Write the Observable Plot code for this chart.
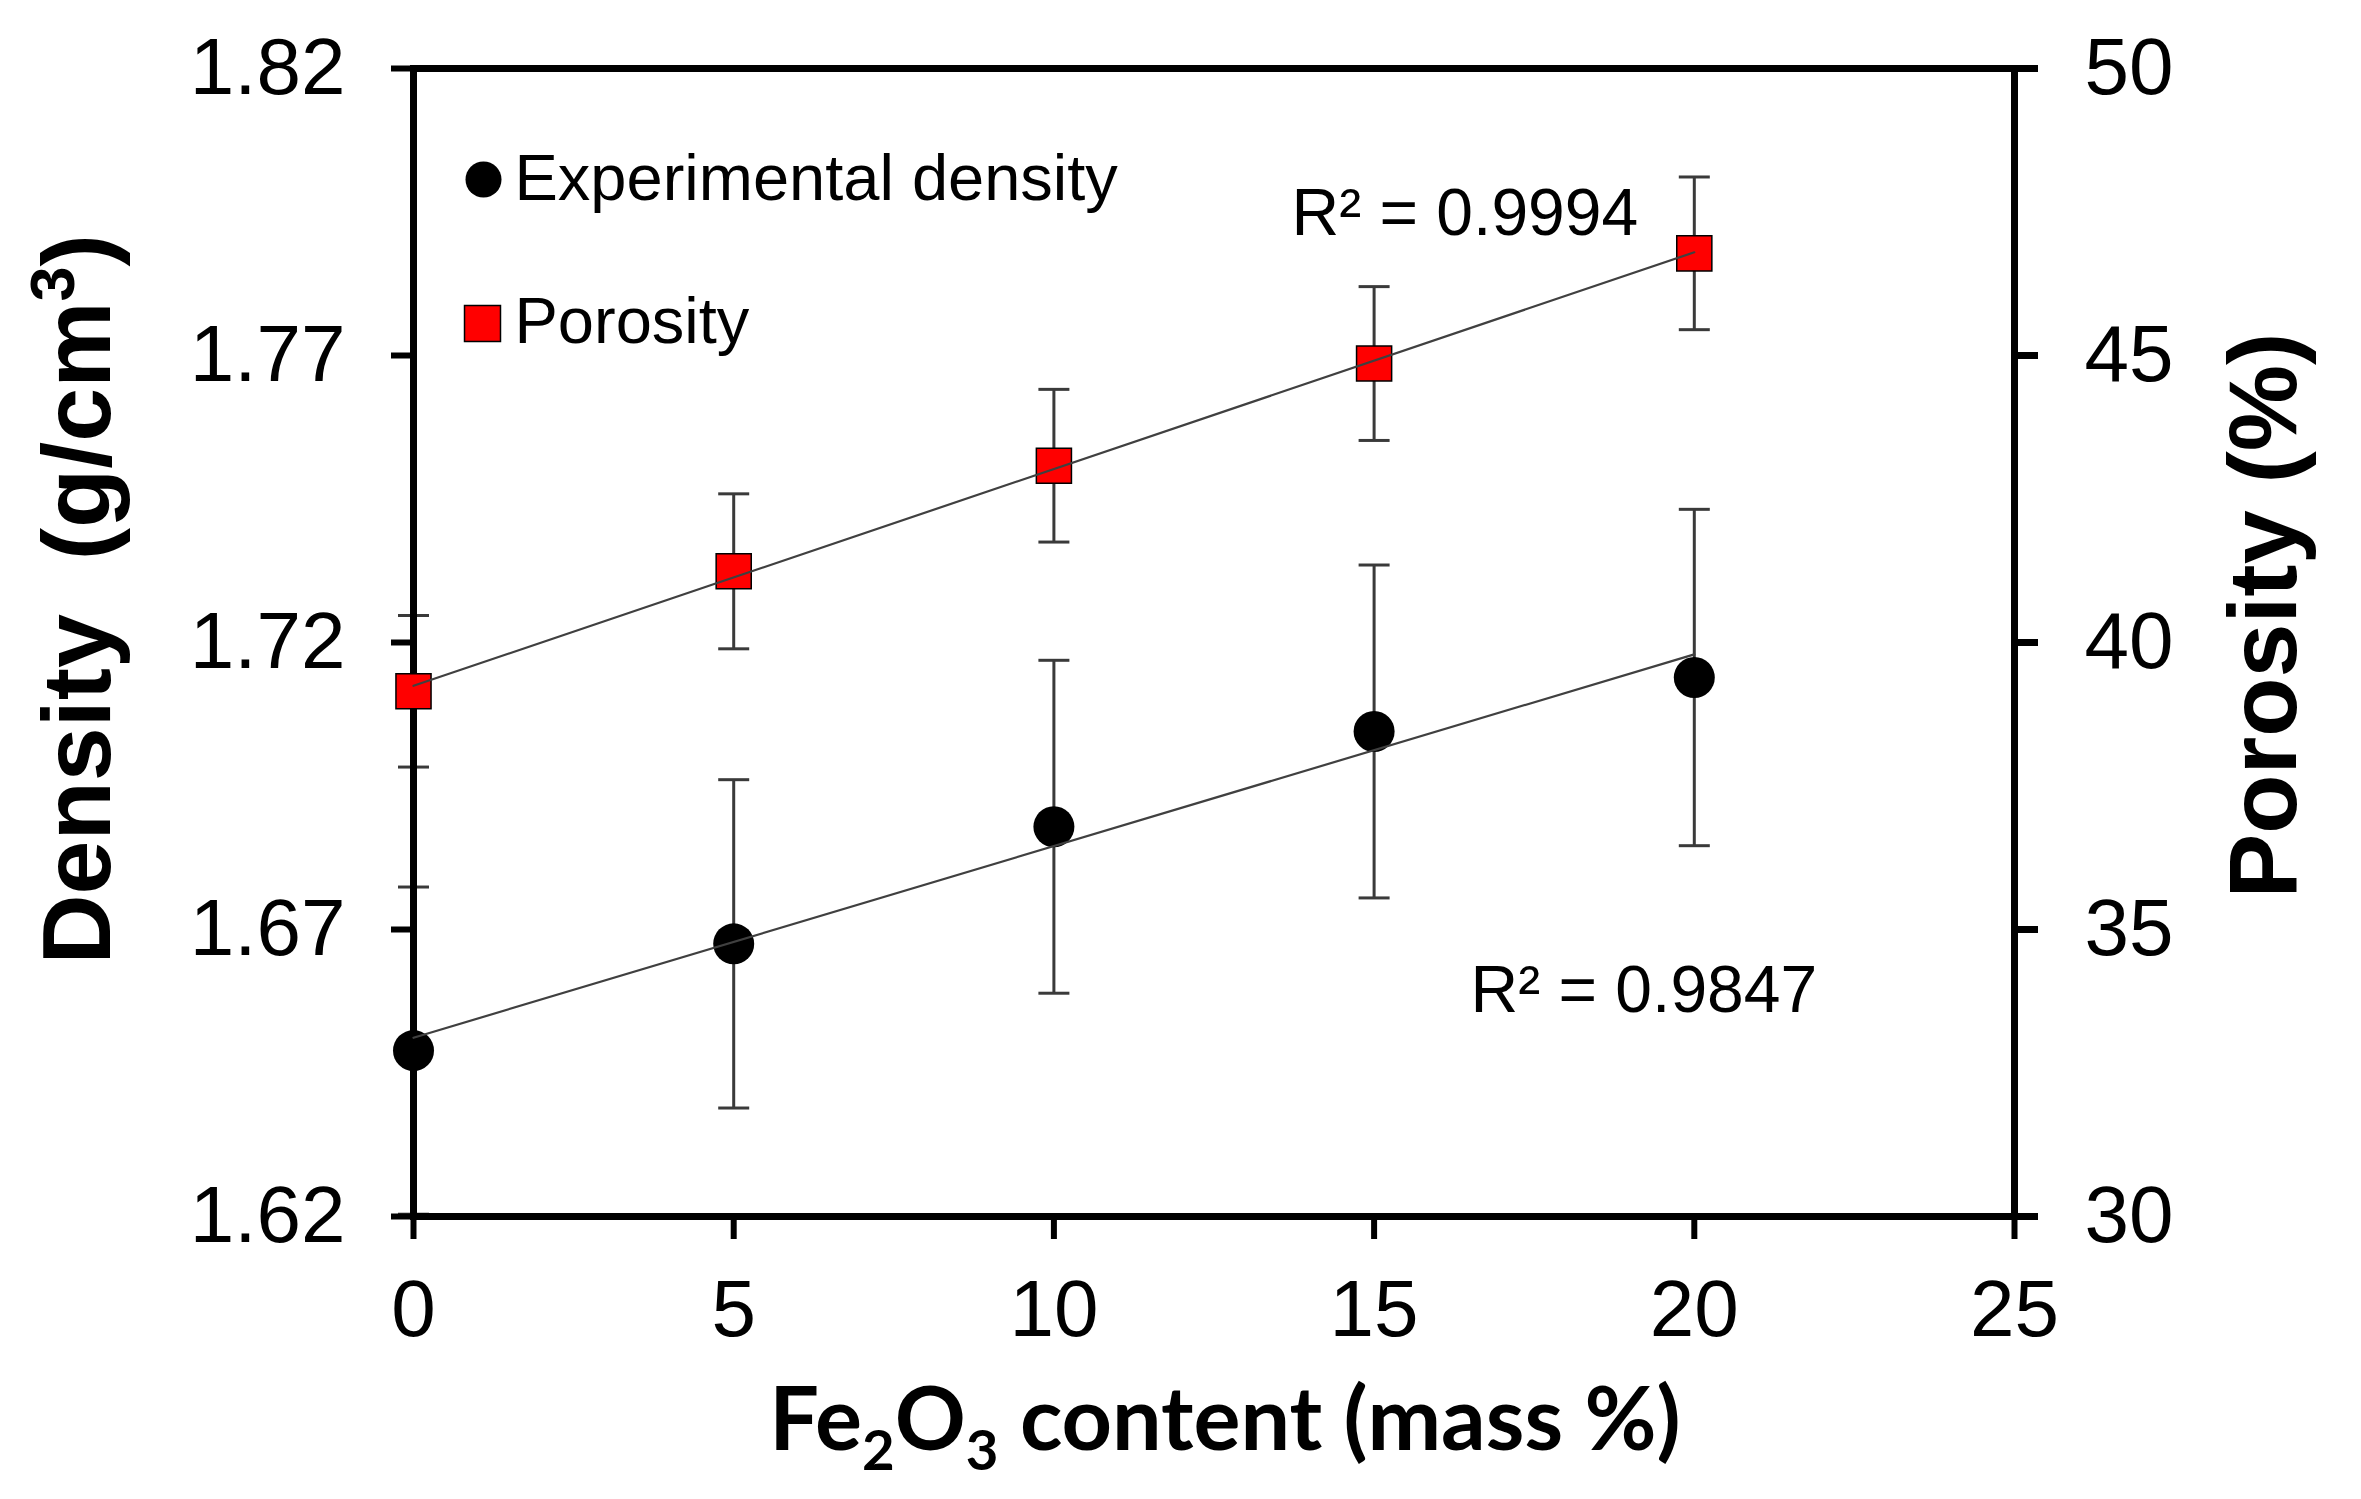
<!DOCTYPE html>
<html>
<head>
<meta charset="utf-8">
<script src="https://cdn.jsdelivr.net/npm/d3@7"></script>
<script src="https://cdn.jsdelivr.net/npm/@observablehq/plot@0.6"></script>
<style>
  body { margin: 0; background: #fff; }
</style>
</head>
<body>
<div id="chart"></div>
<script>
// valores
const contentFe2O3 = [0, 5, 10, 15, 20]
const density = [1.6489, 1.6675, 1.6879, 1.7045, 1.7139]
const densityErr = [0.0285, 0.0286, 0.029, 0.029, 0.0293]
const porosity = [39.15, 41.24, 43.08, 44.86, 46.78]
const porosityErr = [1.32, 1.35, 1.33, 1.34, 1.33]

const xTicks = [0, 5, 10, 15, 20, 25]
const densityTicks = [1.62, 1.67, 1.72, 1.77, 1.82]
const porosityTicks = [30, 35, 40, 45, 50]

const r2Density = "R² = 0.9847"
const r2Porosity = "R² = 0.9994"
const xTitle = "Fe2O3 content (mass %)"
const yTitle = "Density  (g/cm3)"
const y2Title = "Porosity (%)"

// eje derecho (porosidad) mapeado sobre la escala de densidad
const k = (densityTicks[densityTicks.length - 1] - densityTicks[0]) /
          (porosityTicks[porosityTicks.length - 1] - porosityTicks[0])
const toY = p => densityTicks[0] + (p - porosityTicks[0]) * k
const fromY = d => porosityTicks[0] + (d - densityTicks[0]) / k

const rows = contentFe2O3.map((x, i) => ({
  x,
  density: density[i],
  densityErr: densityErr[i],
  porosity: toY(porosity[i]),
  porosityErr: porosityErr[i] * k
}))

// simbolo para las tapas de las barras de error
const cap = {
  draw(context, size) {
    const w = Math.sqrt(size / Math.PI)
    context.moveTo(-w, 0)
    context.lineTo(w, 0)
  }
}

const errColor = "#3a3a3a"
const sans = "'Liberation Sans', Arial, sans-serif"

let chart = Plot.plot({
  width: 2361,
  height: 1499,
  marginLeft: 413,
  marginRight: 347,
  marginTop: 68,
  marginBottom: 283,
  x: {domain: [0, 25]},
  y: {domain: [densityTicks[0], densityTicks[densityTicks.length - 1]]},
  style: {fontFamily: sans, background: "white", color: "black", overflow: "visible"},
  marks: [
    // barras de error
    Plot.ruleX(rows, {x: "x", y1: d => d.density - d.densityErr, y2: d => d.density + d.densityErr, stroke: errColor, strokeWidth: 3}),
    Plot.dot(rows, {x: "x", y: d => d.density - d.densityErr, symbol: cap, r: 15.5, stroke: errColor, strokeWidth: 3}),
    Plot.dot(rows, {x: "x", y: d => d.density + d.densityErr, symbol: cap, r: 15.5, stroke: errColor, strokeWidth: 3}),
    Plot.ruleX(rows, {x: "x", y1: d => d.porosity - d.porosityErr, y2: d => d.porosity + d.porosityErr, stroke: errColor, strokeWidth: 3}),
    Plot.dot(rows, {x: "x", y: d => d.porosity - d.porosityErr, symbol: cap, r: 15.5, stroke: errColor, strokeWidth: 3}),
    Plot.dot(rows, {x: "x", y: d => d.porosity + d.porosityErr, symbol: cap, r: 15.5, stroke: errColor, strokeWidth: 3}),

    Plot.frame({stroke: "black", strokeWidth: 7}),

    // ejes
    Plot.axisX({ticks: xTicks, tickSize: 23, tickPadding: 40, strokeWidth: 6, fontSize: 80, label: null}),
    Plot.axisY({anchor: "left", ticks: densityTicks, tickFormat: d3.format(".2f"), tickSize: 22, tickPadding: 46, strokeWidth: 6, fontSize: 80, label: null}),
    Plot.axisY({anchor: "right", ticks: porosityTicks.map(toY), tickFormat: d => fromY(d).toFixed(0), tickSize: 23, tickPadding: 47, strokeWidth: 7, fontSize: 80, label: null}),

    // puntos
    Plot.dot(rows, {x: "x", y: "density", r: 20.5, fill: "black"}),
    Plot.dot(rows, {x: "x", y: "porosity", symbol: "square", r: 19.8, fill: "#ff0000", stroke: "black", strokeWidth: 1.5}),

    // lineas de tendencia
    Plot.linearRegressionY(rows, {x: "x", y: "density", ci: 0, stroke: "#404040", strokeWidth: 2.2}),
    Plot.linearRegressionY(rows, {x: "x", y: "porosity", ci: 0, stroke: "#404040", strokeWidth: 2.2}),

    Plot.text([r2Porosity], {frameAnchor: "top-left", dx: 878, dy: 166, textAnchor: "start", lineAnchor: "bottom", fontSize: 66}),
    Plot.text([r2Density], {frameAnchor: "top-left", dx: 1057, dy: 943, textAnchor: "start", lineAnchor: "bottom", fontSize: 66}),

    // leyenda
    Plot.dot(["Experimental density"], {frameAnchor: "top-left", dx: 70, dy: 111, r: 18, fill: "black"}),
    Plot.text(["Experimental density"], {frameAnchor: "top-left", dx: 101, dy: 131, textAnchor: "start", lineAnchor: "bottom", fontSize: 65}),
    Plot.dot(["Porosity"], {frameAnchor: "top-left", dx: 69, dy: 255, symbol: "square", r: 20.3, fill: "#ff0000", stroke: "black", strokeWidth: 1.5}),
    Plot.text(["Porosity"], {frameAnchor: "top-left", dx: 101, dy: 274, textAnchor: "start", lineAnchor: "bottom", fontSize: 65}),

    // titulos de ejes (rotados, anclados por su inicio abajo)
    Plot.text([yTitle], {frameAnchor: "left", rotate: -90, dx: -335, dy: 322, textAnchor: "start", lineAnchor: "middle", fontSize: 97, fontWeight: "bold"}),
    Plot.text([y2Title], {frameAnchor: "right", rotate: -90, dx: 250, dy: 256, textAnchor: "start", lineAnchor: "middle", fontSize: 97, fontWeight: "bold"}),
    Plot.text([xTitle], {frameAnchor: "bottom", dx: 11, dy: 233, textAnchor: "middle", lineAnchor: "bottom", fontSize: 88, fontWeight: "bold", fontFamily: "Lato, 'Open Sans', sans-serif"})
  ]
})

const texts = d3.select(chart).selectAll("text")

// subindices del Fe2O3
texts.filter(function () { return this.textContent === xTitle }).each(function () {
  const t = d3.select(this).text(null)
  t.append("tspan").text("Fe")
  t.append("tspan").attr("font-size", "0.64em").attr("dy", 20).text("2")
  t.append("tspan").attr("dy", -20).text("O")
  t.append("tspan").attr("font-size", "0.64em").attr("dy", 20).text("3")
  t.append("tspan").attr("dy", -20).text(" content (mass %)")
})

// superindice de cm3
texts.filter(function () { return this.textContent === yTitle }).each(function () {
  const t = d3.select(this).text(null)
  t.append("tspan").text("Density\u00a0\u00a0(g/cm")
  t.append("tspan").attr("font-size", "0.65em").attr("dy", -36).text("3")
  t.append("tspan").attr("dy", 36).text(")")
})

d3.select('#chart').append(() => chart)
</script>
</body>
</html>
